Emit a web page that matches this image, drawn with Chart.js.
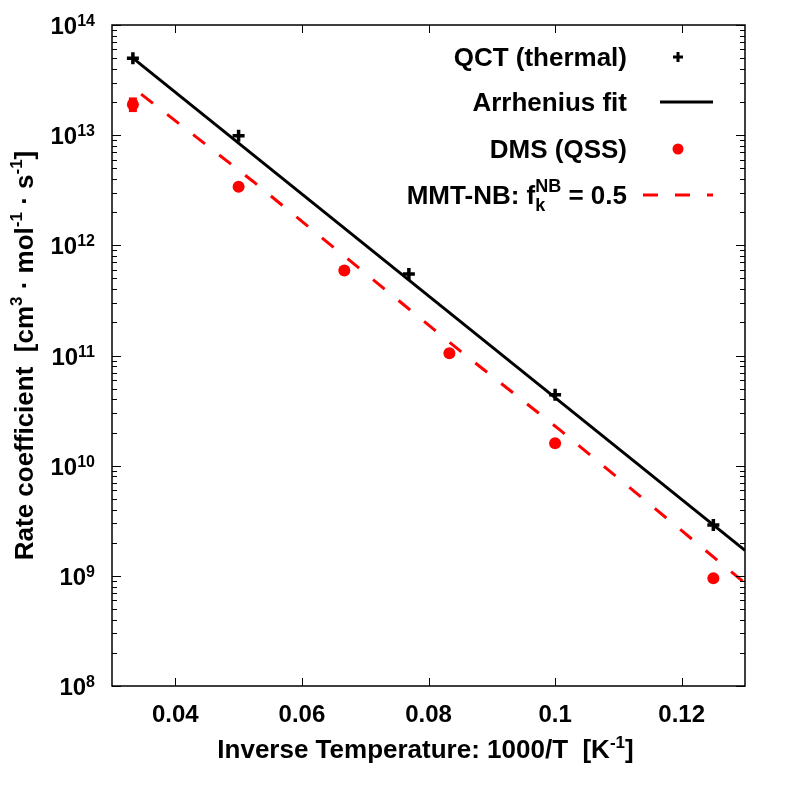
<!DOCTYPE html>
<html>
<head>
<meta charset="utf-8">
<script src="https://cdn.jsdelivr.net/npm/chart.js@4/dist/chart.umd.min.js"></script>
<style>
  html, body { margin: 0; padding: 0; background: #fff; }
  #wrap { width: 793px; height: 793px; }
</style>
</head>
<body>
<div id="wrap"><canvas id="chart" width="793" height="793"></canvas></div>
<script>
'use strict';

// QCT thermal rate coefficients (1000/T, k)
const qctX = [0.0333, 0.05, 0.0769, 0.1, 0.125];
const qctY = [5.0e13, 9.9e12, 5.5e11, 4.4e10, 2.9e9];

// Arrhenius fit through the QCT points (end points)
const fitX = [0.0333, 0.13];
const fitY = [5.0e13, 1.7e9];

// DMS (QSS) rates
const dmsX = [0.0333, 0.05, 0.0667, 0.0833, 0.1, 0.125];
const dmsY = [1.9e13, 3.4e12, 5.9e11, 1.05e11, 1.6e10, 9.5e8];

// error bar on the first DMS point
const dmsErrX = [0.0333, 0.0333];
const dmsErrY = [1.62e13, 2.2e13];

// MMT-NB model, f_k^NB = 0.5
const mmtX = [0.0346, 0.0523, 0.085, 0.1008, 0.13];
const mmtY = [2.36e13, 3.8e12, 1.1e11, 2.1e10, 8.6e8];

// axes
const xTicks = [0.04, 0.06, 0.08, 0.1, 0.12];
const xTickLabels = ['0.04', '0.06', '0.08', '0.1', '0.12'];
const yDecades = [8, 9, 10, 11, 12, 13, 14];

const FONT = '"Liberation Sans", Arial, Helvetica, sans-serif';
const RED = '#ff0000';

function pts(xs, ys) {
  return xs.map((x, i) => ({ x, y: ys[i] }));
}

// text made of runs; run = {t, size, dy}
function runsWidth(ctx, runs) {
  let w = 0;
  for (const r of runs) {
    ctx.font = `bold ${r.size}px ${FONT}`;
    w += ctx.measureText(r.t).width;
  }
  return w;
}
function drawRuns(ctx, runs, x, y, align) {
  const w = runsWidth(ctx, runs);
  let cx = align === 'right' ? x - w : align === 'center' ? x - w / 2 : x;
  ctx.textAlign = 'left';
  ctx.textBaseline = 'alphabetic';
  for (const r of runs) {
    ctx.font = `bold ${r.size}px ${FONT}`;
    ctx.fillText(r.t, cx, y + (r.dy || 0));
    cx += ctx.measureText(r.t).width;
  }
}

const framePlugin = {
  id: 'frame',
  afterDraw(chart) {
    const ctx = chart.ctx;
    const a = chart.chartArea;
    const xs = chart.scales.x, ys = chart.scales.y;
    ctx.save();
    ctx.strokeStyle = '#000';
    ctx.fillStyle = '#000';

    // x ticks, bottom and top, pointing inwards
    ctx.lineWidth = 1;
    ctx.beginPath();
    xTicks.forEach(v => {
      const px = Math.round(xs.getPixelForValue(v)) + 0.5;
      ctx.moveTo(px, a.bottom); ctx.lineTo(px, a.bottom - 8);
      ctx.moveTo(px, a.top); ctx.lineTo(px, a.top + 8);
    });
    // y ticks, major and minor, left and right
    yDecades.forEach(n => {
      const py = Math.round(ys.getPixelForValue(Math.pow(10, n))) + 0.5;
      ctx.moveTo(a.left, py); ctx.lineTo(a.left + 9, py);
      ctx.moveTo(a.right, py); ctx.lineTo(a.right - 9, py);
      if (n === 14) return;
      for (let m = 2; m <= 9; m++) {
        const q = Math.round(ys.getPixelForValue(m * Math.pow(10, n))) + 0.5;
        ctx.moveTo(a.left, q); ctx.lineTo(a.left + 5, q);
        ctx.moveTo(a.right, q); ctx.lineTo(a.right - 5, q);
      }
    });
    ctx.stroke();

    // border
    ctx.lineWidth = 1.5;
    ctx.strokeRect(a.left, a.top, a.right - a.left, a.bottom - a.top);

    // x tick labels
    ctx.font = `bold 24px ${FONT}`;
    ctx.textAlign = 'center';
    ctx.textBaseline = 'alphabetic';
    xTicks.forEach((v, i) => {
      ctx.fillText(xTickLabels[i], xs.getPixelForValue(v), a.bottom + 36);
    });

    // y tick labels 10^n
    yDecades.forEach(n => {
      const py = ys.getPixelForValue(Math.pow(10, n));
      drawRuns(ctx, [
        { t: '10', size: 24 },
        { t: String(n), size: 16, dy: -8 },
      ], a.left - 17, py + 9, 'right');
    });

    // x axis title
    drawRuns(ctx, [
      { t: 'Inverse Temperature: 1000/T  [K', size: 26 },
      { t: '-1', size: 17, dy: -10 },
      { t: ']', size: 26 },
    ], (a.left + a.right) / 2 - 3, 758, 'center');

    // y axis title
    ctx.save();
    ctx.translate(33, (a.top + a.bottom) / 2);
    ctx.rotate(-Math.PI / 2);
    drawRuns(ctx, [
      { t: 'Rate coefficient  [cm', size: 26 },
      { t: '3', size: 17, dy: -11 },
      { t: ' \u00b7 mol', size: 26 },
      { t: '-1', size: 17, dy: -11 },
      { t: ' \u00b7 s', size: 26 },
      { t: '-1', size: 17, dy: -11 },
      { t: ']', size: 26 },
    ], 0, 0, 'center');
    ctx.restore();
    ctx.restore();
  },
};

// key: labels right-aligned, samples to the right
const keyPlugin = {
  id: 'key',
  afterDraw(chart) {
    const ctx = chart.ctx;
    ctx.save();
    ctx.fillStyle = '#000';
    const kx = 627;
    const rows = [57, 102, 149, 195];
    drawRuns(ctx, [{ t: 'QCT (thermal)', size: 26 }], kx, rows[0] + 9, 'right');
    drawRuns(ctx, [{ t: 'Arrhenius fit', size: 26 }], kx, rows[1] + 9, 'right');
    drawRuns(ctx, [{ t: 'DMS (QSS)', size: 26 }], kx, rows[2] + 9, 'right');

    // MMT row: sub and superscript share an x position
    const y = rows[3] + 9;
    const main = `bold 26px ${FONT}`, small = `bold 18px ${FONT}`;
    ctx.font = main;
    const wA = ctx.measureText('MMT-NB: f').width;
    const wC = ctx.measureText(' = 0.5').width;
    ctx.font = small;
    const wSup = ctx.measureText('NB').width;
    const start = kx - wC - wSup - wA;
    ctx.textAlign = 'left';
    ctx.textBaseline = 'alphabetic';
    ctx.font = main;
    ctx.fillText('MMT-NB: f', start, y);
    ctx.fillText(' = 0.5', kx - wC, y);
    ctx.font = small;
    ctx.fillText('NB', start + wA, y - 12);
    ctx.fillText('k', start + wA, y + 7);

    // samples
    ctx.strokeStyle = '#000';
    ctx.lineWidth = 3;
    ctx.beginPath();
    ctx.moveTo(673, rows[0]); ctx.lineTo(683, rows[0]);
    ctx.moveTo(678, rows[0] - 5); ctx.lineTo(678, rows[0] + 5);
    ctx.stroke();
    ctx.beginPath();
    ctx.moveTo(660, rows[1]); ctx.lineTo(713, rows[1]);
    ctx.stroke();
    ctx.fillStyle = RED;
    ctx.beginPath();
    ctx.arc(678, rows[2], 5.5, 0, Math.PI * 2);
    ctx.fill();
    ctx.strokeStyle = RED;
    ctx.setLineDash([15, 17]);
    ctx.beginPath();
    ctx.moveTo(643, rows[3]); ctx.lineTo(713, rows[3]);
    ctx.stroke();
    ctx.restore();
  },
};

new Chart(document.getElementById('chart'), {
  type: 'scatter',
  data: {
    datasets: [
      {
        label: 'QCT (thermal)',
        data: pts(qctX, qctY),
        pointStyle: 'cross',
        pointRadius: 6,
        pointBorderWidth: 3.5,
        borderColor: '#000',
        backgroundColor: '#000',
        showLine: false,
        order: 1,
      },
      {
        label: 'Arrhenius fit',
        data: pts(fitX, fitY),
        showLine: true,
        borderColor: '#000',
        borderWidth: 3,
        pointRadius: 0,
        order: 2,
      },
      {
        label: 'DMS (QSS)',
        data: pts(dmsX, dmsY),
        pointStyle: 'circle',
        pointRadius: 6,
        pointBorderWidth: 0,
        backgroundColor: RED,
        borderColor: RED,
        showLine: false,
        order: 0,
      },
      {
        label: 'DMS error',
        data: pts(dmsErrX, dmsErrY),
        showLine: true,
        borderColor: RED,
        borderWidth: 8,
        borderCapStyle: 'butt',
        pointRadius: 0,
        order: 0,
      },
      {
        label: 'MMT-NB',
        data: pts(mmtX, mmtY),
        showLine: true,
        borderColor: RED,
        borderWidth: 3,
        borderDash: [15, 18],
        borderCapStyle: 'butt',
        pointRadius: 0,
        order: 3,
      },
    ],
  },
  options: {
    responsive: false,
    animation: false,
    events: [],
    layout: { padding: { left: 112, right: 48, top: 25, bottom: 107 } },
    plugins: { legend: { display: false }, tooltip: { enabled: false } },
    scales: {
      x: { type: 'linear', min: 0.03, max: 0.13, display: false },
      y: { type: 'logarithmic', min: 1e8, max: 1e14, display: false },
    },
  },
  plugins: [framePlugin, keyPlugin],
});
</script>
</body>
</html>
